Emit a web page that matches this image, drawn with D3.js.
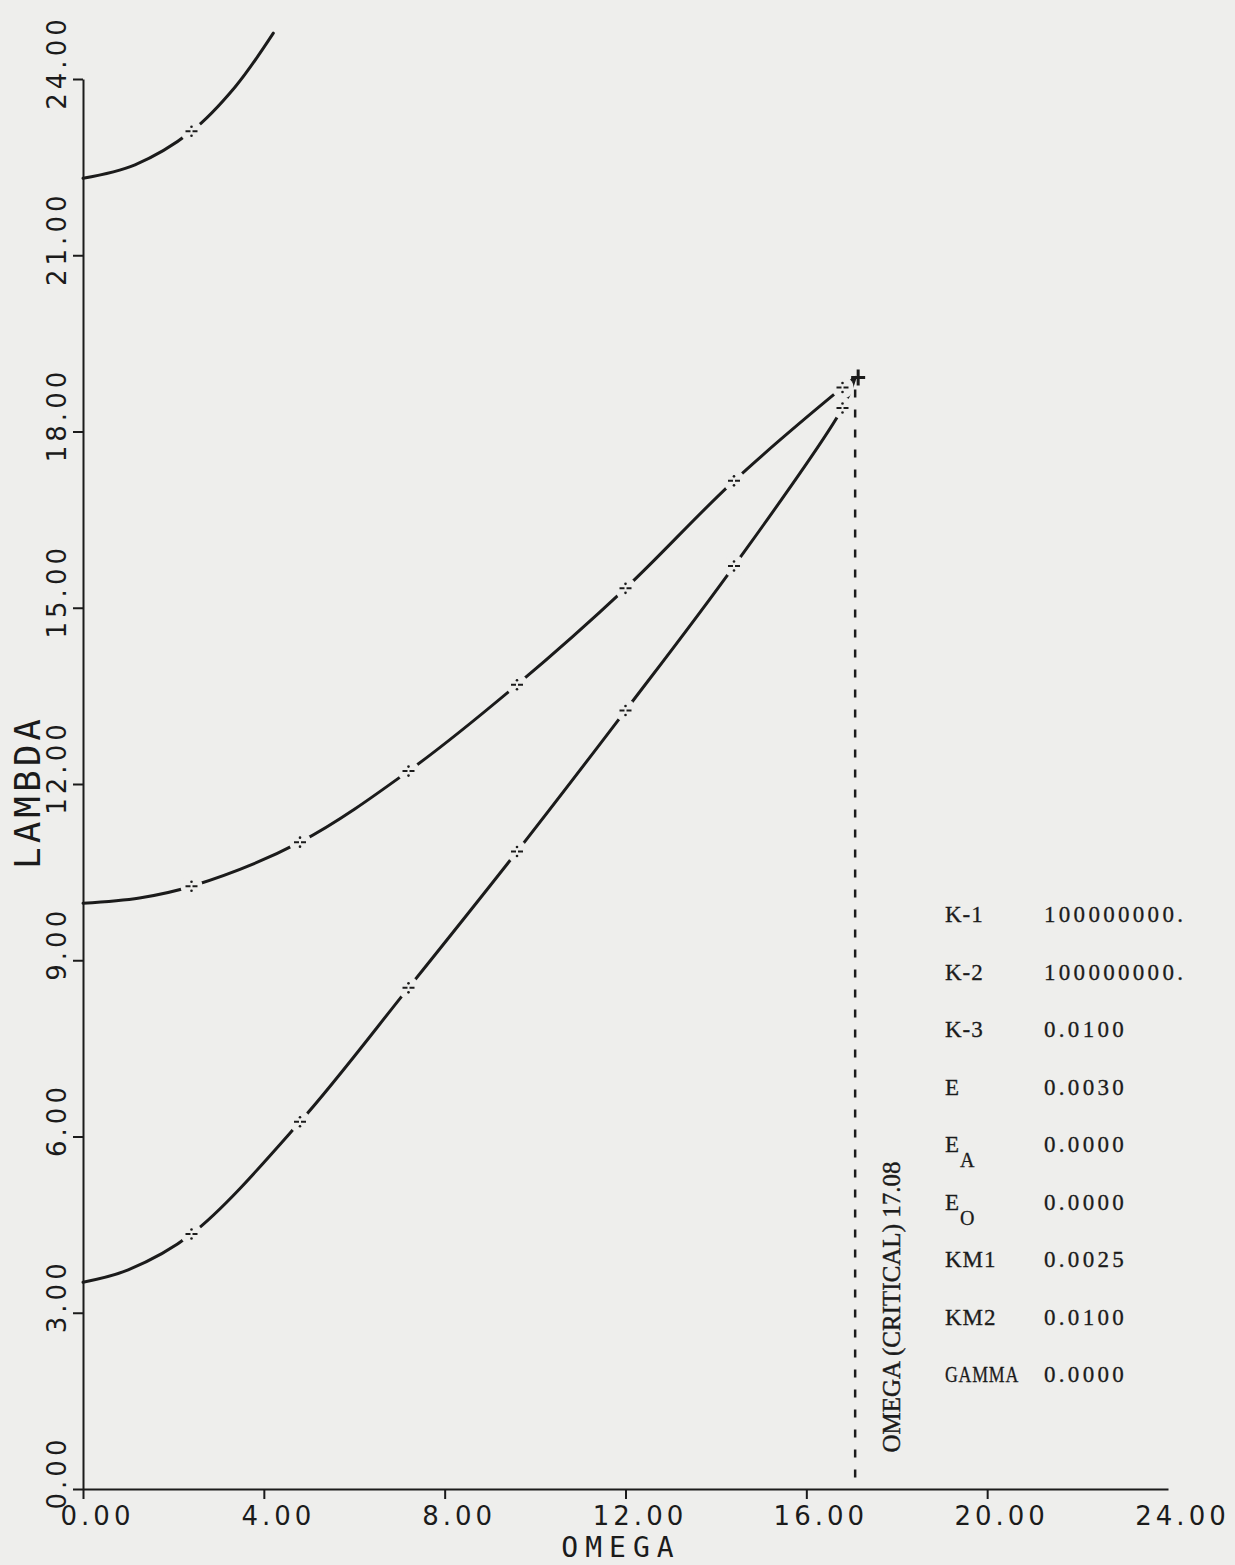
<!DOCTYPE html>
<html>
<head>
<meta charset="utf-8">
<script src="https://cdn.jsdelivr.net/npm/d3@7"></script>
<style>
  html, body { margin: 0; padding: 0; background: #eeeeec; }
  svg { display: block; }
</style>
</head>
<body>
<svg id="chart" width="1235" height="1565"></svg>
<script>
// Eigenvalue branches LAMBDA vs rotor speed OMEGA
const lowOmega = [0, 1.0, 2.4, 4.8, 7.2, 9.6, 12.0, 14.4, 16.8, 17.08];
const lowLambda = [3.52, 3.73, 4.34, 6.25, 8.53, 10.85, 13.25, 15.71, 18.40, 18.92];

const midOmega = [0, 1.25, 2.4, 4.8, 7.2, 9.6, 12.0, 14.4, 16.8, 17.08];
const midLambda = [9.97, 10.06, 10.26, 11.01, 12.22, 13.69, 15.33, 17.16, 18.75, 18.92];

const topOmega = [0, 1.15, 2.4, 3.36, 4.21];
const topLambda = [22.31, 22.54, 23.11, 23.86, 24.78];

// computed stations marked on each branch
const markerOmega = [2.4, 4.8, 7.2, 9.6, 12.0, 14.4, 16.8];

// critical speed where the two lower branches merge
const criticalOmega = 17.08;
const criticalLambda = 18.92;

const xTicks = [0, 4, 8, 12, 16, 20, 24];
const yTicks = [0, 3, 6, 9, 12, 15, 18, 21, 24];

const paramNames = ["K-1", "K-2", "K-3", "E", "E|A", "E|O", "KM1", "KM2", "GAMMA"];
const paramValues = ["100000000.", "100000000.", "0.0100", "0.0030", "0.0000", "0.0000", "0.0025", "0.0100", "0.0000"];

const BG = "#eeeeec";
const INK = "#1b1b1b";
const tickFont = "'DejaVu Sans', sans-serif";
const plotFont = "'DejaVu Sans Mono', monospace";
const typeFont = "'Liberation Serif', 'DejaVu Serif', serif";

const svg = d3.select("#chart");
svg.append("rect").attr("width", 1235).attr("height", 1565).attr("fill", BG);

const x = d3.scaleLinear().domain([0, 24]).range([83, 1168]);
const y = d3.scaleLinear().domain([0, 24]).range([1489, 79]);
const fmt = d3.format(".2f");

// x axis
const gx = svg.append("g")
  .attr("transform", `translate(0,${y(0)})`)
  .call(d3.axisBottom(x).tickValues(xTicks).tickSize(10).tickSizeOuter(0).tickFormat(fmt));
gx.select(".domain").attr("stroke", INK).attr("stroke-width", 2);
gx.selectAll(".tick line").attr("stroke", INK).attr("stroke-width", 2)
  .filter(d => d === 24).remove();
gx.selectAll(".tick text")
  .attr("fill", INK).attr("font-family", tickFont).attr("font-size", 26)
  .attr("letter-spacing", 4)
  .attr("y", 36).attr("dy", 0).attr("dx", 14);

// y axis
const gy = svg.append("g")
  .attr("transform", `translate(${x(0)},0)`)
  .call(d3.axisLeft(y).tickValues(yTicks).tickSize(10).tickSizeOuter(0).tickFormat(fmt));
gy.select(".domain").attr("stroke", INK).attr("stroke-width", 2);
gy.selectAll(".tick line").attr("stroke", INK).attr("stroke-width", 2);
gy.selectAll(".tick text")
  .attr("fill", INK).attr("font-family", tickFont).attr("font-size", 26)
  .attr("letter-spacing", 4)
  .attr("x", 0).attr("y", 0).attr("dy", 0)
  .attr("text-anchor", "middle")
  .attr("transform", "translate(-17,-17) rotate(-90)");

// axis titles
svg.append("text")
  .attr("x", 621).attr("y", 1557)
  .attr("text-anchor", "middle")
  .attr("font-family", plotFont).attr("font-size", 28).attr("letter-spacing", 7)
  .attr("fill", INK)
  .text("OMEGA");

svg.append("text")
  .attr("transform", "translate(40,792) rotate(-90)")
  .attr("text-anchor", "middle")
  .attr("font-family", plotFont).attr("font-size", 36).attr("letter-spacing", 4)
  .attr("fill", INK)
  .text("LAMBDA");

// branches
const line = d3.line()
  .x(d => x(d[0])).y(d => y(d[1]))
  .curve(d3.curveCatmullRom.alpha(0.5));

const branches = [
  d3.zip(lowOmega, lowLambda),
  d3.zip(midOmega, midLambda),
  d3.zip(topOmega, topLambda)
];

svg.append("g").selectAll("path")
  .data(branches)
  .join("path")
  .attr("d", line)
  .attr("fill", "none")
  .attr("stroke", INK)
  .attr("stroke-width", 3)
  .attr("stroke-linecap", "round");

// station markers: the pen lifts around each one
const markerPts = branches.flatMap(b => b.filter(d => markerOmega.includes(d[0])));
const mk = svg.append("g").selectAll("g")
  .data(markerPts)
  .join("g")
  .attr("transform", d => `translate(${x(d[0])},${y(d[1])})`);
mk.append("circle").attr("r", 11).attr("fill", BG);
mk.append("path")
  .attr("d", "M-6,0H-1M1,0H6")
  .attr("stroke", INK).attr("stroke-width", 2).attr("fill", "none");
mk.append("circle").attr("cy", -4.5).attr("r", 1.3).attr("fill", INK);
mk.append("circle").attr("cy", 4.5).attr("r", 1.3).attr("fill", INK);

// critical speed line and mark
svg.append("line")
  .attr("x1", x(criticalOmega)).attr("x2", x(criticalOmega))
  .attr("y1", y(criticalLambda) + 12).attr("y2", y(0))
  .attr("stroke", INK).attr("stroke-width", 2.5)
  .attr("stroke-dasharray", "8,12");

svg.append("path")
  .attr("transform", `translate(${x(criticalOmega) + 3},${y(criticalLambda)})`)
  .attr("d", "M-7,0H7M0,-8V8")
  .attr("stroke", INK).attr("stroke-width", 3);

svg.append("text")
  .attr("transform", `translate(${x(criticalOmega) + 45},1307) rotate(-90)`)
  .attr("text-anchor", "middle")
  .attr("font-family", typeFont).attr("font-size", 25)
  .attr("fill", INK).attr("stroke", INK).attr("stroke-width", 0.4)
  .text(`OMEGA (CRITICAL) ${criticalOmega.toFixed(2)}`);

// parameter table
const table = svg.append("g")
  .attr("font-family", typeFont).attr("font-size", 23)
  .attr("fill", INK).attr("stroke", INK).attr("stroke-width", 0.3);
const rows = table.selectAll("g")
  .data(d3.zip(paramNames, paramValues))
  .join("g")
  .attr("transform", (d, i) => `translate(0,${922 + i * 57.5})`);

rows.each(function(d) {
  const g = d3.select(this);
  const parts = d[0].split("|");
  const t = g.append("text").attr("x", 945).attr("y", 0).attr("letter-spacing", 1);
  t.append("tspan").text(parts[0]);
  if (parts[1]) {
    t.append("tspan").attr("dy", 15).attr("font-size", 20).text(parts[1]);
  }
  // the typewriter capitals are narrow; keep long names inside the label column
  const w = t.node().getComputedTextLength();
  if (w > 74) t.attr("textLength", 74).attr("lengthAdjust", "spacingAndGlyphs");
  g.append("text").attr("x", 1044).attr("y", 0).attr("letter-spacing", 3.3).text(d[1]);
});
</script>
</body>
</html>
